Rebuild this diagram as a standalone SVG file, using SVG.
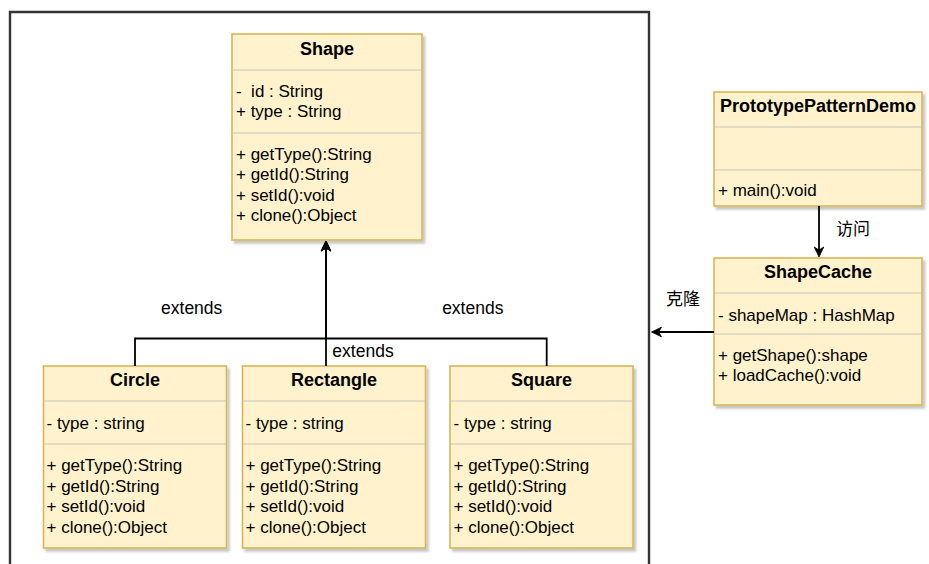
<svg xmlns="http://www.w3.org/2000/svg" width="929" height="564" viewBox="0 0 929 564">
<defs>
<filter id="sh" x="-10%" y="-10%" width="130%" height="130%">
<feDropShadow dx="2.5" dy="3" stdDeviation="1.3" flood-color="#000" flood-opacity="0.22"/>
</filter>
<marker id="arr" markerUnits="userSpaceOnUse" viewBox="-1 -6 13 12" markerWidth="13" markerHeight="12" refX="3" refY="0" orient="auto">
<path d="M10,0 L0,-4.8 L3,0 L0,4.8 Z" fill="#000" stroke="#000" stroke-width="0.8" stroke-linejoin="miter"/>
</marker>
<style>
.box{fill:#fff2cc;stroke:#d6b656;stroke-width:1.6;filter:url(#sh)}
.dv{stroke:#c4c4c4;stroke-width:1.2}
.t{font-family:"Liberation Sans",Arial,Helvetica,sans-serif;font-size:17px;fill:#000}
.ti{font-weight:bold;font-size:18px;text-anchor:middle}
.lb{font-size:17.5px;text-anchor:middle}
.cjk{font-family:"Liberation Sans","Noto Sans CJK SC",sans-serif;font-size:17px;text-anchor:middle;fill:#000}
.edge{fill:none;stroke:#000;stroke-width:1.8}
.frame{fill:none;stroke:#333;stroke-width:2.4}
</style>
</defs>
<rect width="929" height="564" fill="#fff"/>
<path class="frame" d="M10,566 V12 H649 V566"/>

<g id="Shape">
<rect class="box" x="232" y="34" width="190" height="206"/>
<line class="dv" x1="232.8" y1="70" x2="421.2" y2="70"/>
<line class="dv" x1="232.8" y1="133" x2="421.2" y2="133"/>
<text class="t ti" x="327" y="54.5">Shape</text>
<text class="t" x="236" y="97" xml:space="preserve">-  id : String</text>
<text class="t" x="236" y="117">+ type : String</text>
<text class="t" x="236" y="159.5">+ getType():String</text>
<text class="t" x="236" y="180">+ getId():String</text>
<text class="t" x="236" y="200.5">+ setId():void</text>
<text class="t" x="236" y="221">+ clone():Object</text>
</g>

<g id="Circle">
<rect class="box" x="43.5" y="366" width="183" height="182"/>
<line class="dv" x1="44.3" y1="401" x2="225.7" y2="401"/>
<line class="dv" x1="44.3" y1="444" x2="225.7" y2="444"/>
<text class="t ti" x="135" y="386">Circle</text>
<text class="t" x="46.5" y="429">- type : string</text>
<text class="t" x="46.5" y="471">+ getType():String</text>
<text class="t" x="46.5" y="491.5">+ getId():String</text>
<text class="t" x="46.5" y="512">+ setId():void</text>
<text class="t" x="46.5" y="532.5">+ clone():Object</text>
</g>

<g id="Rectangle">
<rect class="box" x="242.5" y="366" width="183" height="182"/>
<line class="dv" x1="243.3" y1="401" x2="424.7" y2="401"/>
<line class="dv" x1="243.3" y1="444" x2="424.7" y2="444"/>
<text class="t ti" x="334" y="386">Rectangle</text>
<text class="t" x="245.5" y="429">- type : string</text>
<text class="t" x="245.5" y="471">+ getType():String</text>
<text class="t" x="245.5" y="491.5">+ getId():String</text>
<text class="t" x="245.5" y="512">+ setId():void</text>
<text class="t" x="245.5" y="532.5">+ clone():Object</text>
</g>

<g id="Square">
<rect class="box" x="450" y="366" width="183" height="182"/>
<line class="dv" x1="450.8" y1="401" x2="632.2" y2="401"/>
<line class="dv" x1="450.8" y1="444" x2="632.2" y2="444"/>
<text class="t ti" x="541.5" y="386">Square</text>
<text class="t" x="453.5" y="429">- type : string</text>
<text class="t" x="453.5" y="471">+ getType():String</text>
<text class="t" x="453.5" y="491.5">+ getId():String</text>
<text class="t" x="453.5" y="512">+ setId():void</text>
<text class="t" x="453.5" y="532.5">+ clone():Object</text>
</g>

<g id="PrototypePatternDemo">
<rect class="box" x="714" y="92" width="208" height="114"/>
<line class="dv" x1="714.8" y1="127" x2="921.2" y2="127"/>
<line class="dv" x1="714.8" y1="170" x2="921.2" y2="170"/>
<text class="t ti" x="818" y="112">PrototypePatternDemo</text>
<text class="t" x="718" y="196">+ main():void</text>
</g>

<g id="ShapeCache">
<rect class="box" x="714" y="258" width="208" height="147"/>
<line class="dv" x1="714.8" y1="293" x2="921.2" y2="293"/>
<line class="dv" x1="714.8" y1="334" x2="921.2" y2="334"/>
<text class="t ti" x="818" y="277.5">ShapeCache</text>
<text class="t" x="718" y="320.7">- shapeMap : HashMap</text>
<text class="t" x="718" y="361">+ getShape():shape</text>
<text class="t" x="718" y="381">+ loadCache():void</text>
</g>

<g id="connectors">
<path class="edge" d="M135,366 V338.5 H326 V248" marker-end="url(#arr)"/>
<path class="edge" d="M326,366 V248" marker-end="url(#arr)"/>
<path class="edge" d="M546.7,366 V338.5 H326 V248" marker-end="url(#arr)"/>
<path class="edge" d="M819,206 V250" marker-end="url(#arr)"/>
<path class="edge" d="M714,332 H658.5" marker-end="url(#arr)"/>
<text class="t lb" x="191.7" y="313.5">extends</text>
<text class="t lb" x="472.8" y="313.5">extends</text>
<text class="t lb" x="363" y="357.3">extends</text>
<text class="cjk" x="853" y="235">访问</text>
<text class="cjk" x="683" y="304.5">克隆</text>
</g>
</svg>
